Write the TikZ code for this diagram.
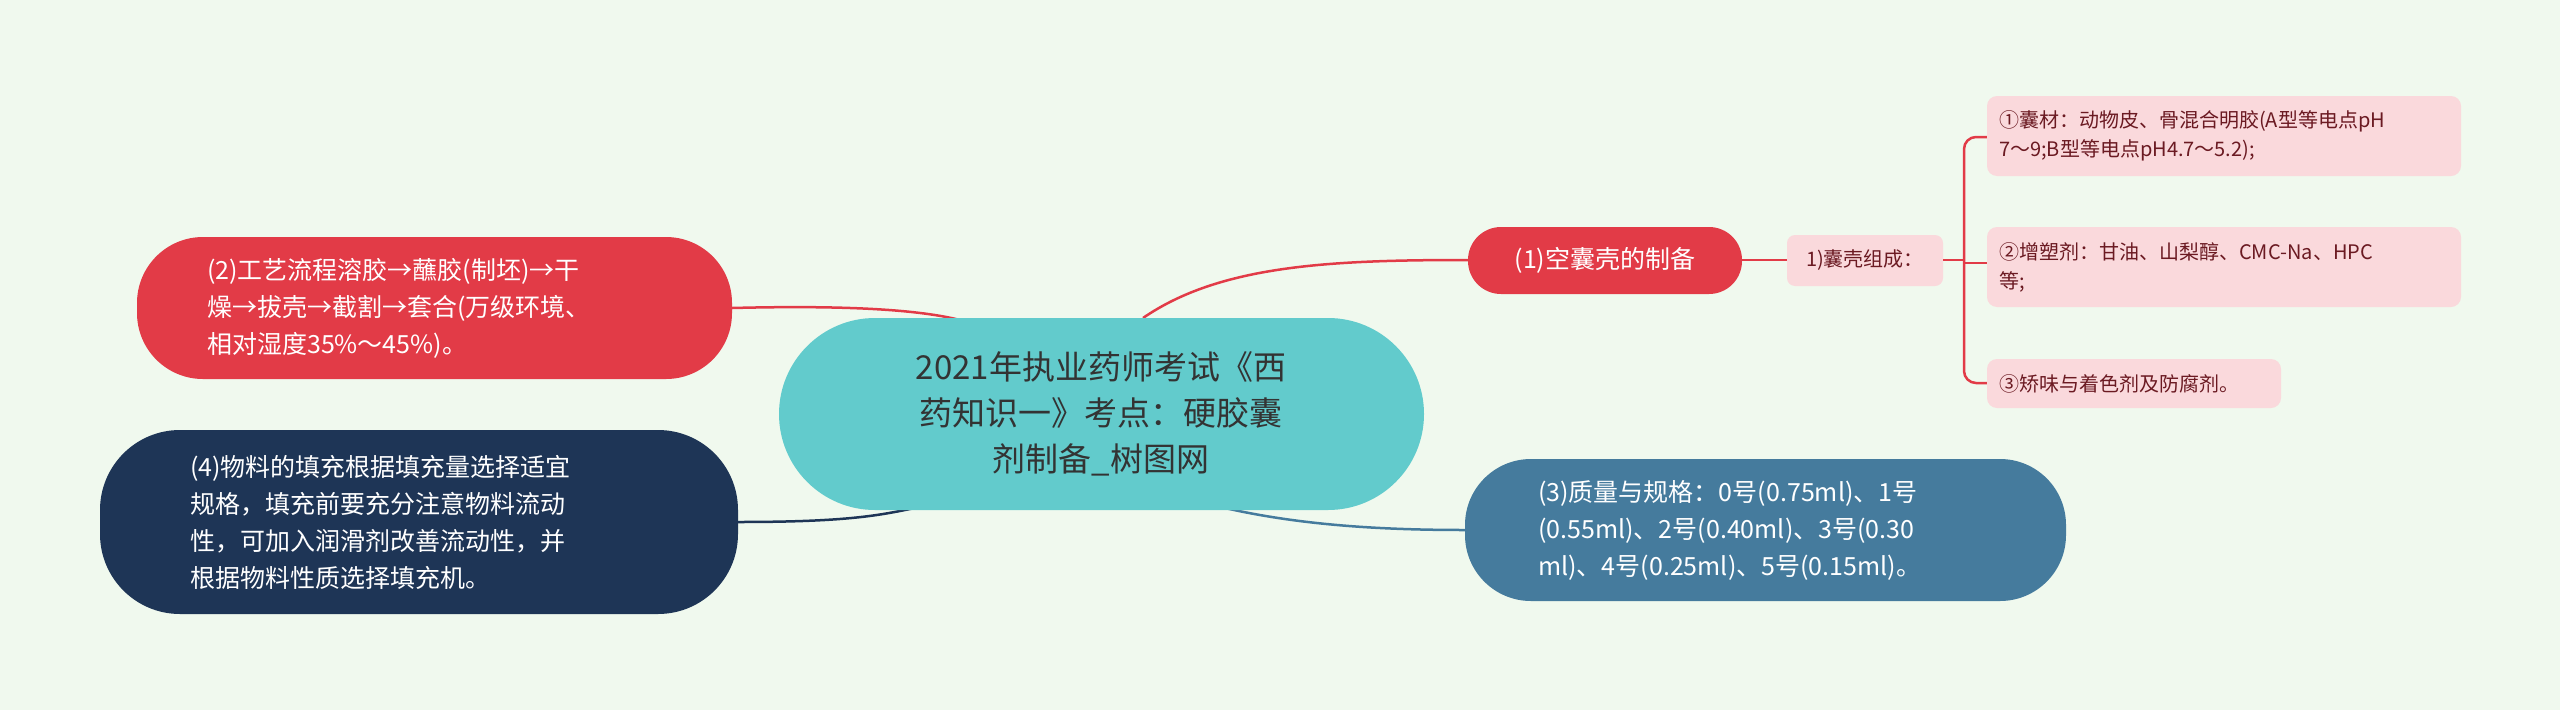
\documentclass[tikz,border=0pt]{standalone}
\usepackage{fontspec}
\setmainfont{Noto Sans CJK SC}
\begin{document}
\begin{tikzpicture}[x=1pt,y=-1pt,
  box/.style={rounded corners=#1,inner sep=0pt},
  txt/.style={align=left,anchor=west,inner sep=0pt}]
\definecolor{bg}{HTML}{F0F9EE}
\definecolor{teal}{HTML}{62CBCC}
\definecolor{red1}{HTML}{E23B47}
\definecolor{pink}{HTML}{FAD9DC}
\definecolor{navy}{HTML}{1E3556}
\definecolor{steel}{HTML}{457B9D}
\definecolor{dred}{HTML}{6B1A22}
\fill[bg] (0,0) rectangle (2560,710);
\useasboundingbox (0,0) rectangle (2560,710);
% connectors
\coordinate (c1) at (1143,318);
\coordinate (c2) at (960,320);
\coordinate (c4) at (915,508);
\coordinate (c3) at (1225,508);
\coordinate (n1) at (1468,260);
\coordinate (n2) at (732,308);
\coordinate (n4) at (738,522);
\coordinate (n3) at (1465,530);
\draw[red1,line width=2.5pt] (c1) .. controls (1220,265) and (1330,260) .. (n1);
\draw[red1,line width=2.5pt] (n2) .. controls (850,305) and (920,310) .. (c2);
\draw[navy,line width=2.5pt] (n4) .. controls (850,522) and (880,515) .. (c4);
\draw[steel,line width=2.5pt] (c3) .. controls (1300,525) and (1380,530) .. (n3);
% nodes
\fill[teal,rounded corners=96] (779,318) rectangle (1424,510);
\node[align=center,font=\fontsize{33}{46}\selectfont,text=black!80] (root) at (1101,414) {2021年执业药师考试《西\\药知识一》考点：硬胶囊\\剂制备\_树图网};
\fill[red1,rounded corners=33] (1468,227) rectangle (1742,294);
\node[font=\fontsize{25}{30}\selectfont,text=white] (a) at (1605,260) {(1)空囊壳的制备};
\draw[red1,line width=2.5pt] (1742,260) -- (1787,260);
\fill[pink,rounded corners=8] (1787,235) rectangle (1943,286);
\node[font=\fontsize{20}{24}\selectfont,text=dred] (b) at (1865,260) {1)囊壳组成：};
% bracket
\draw[red1,line width=2.5pt,rounded corners=12] (1987,137) -- (1964,137) -- (1964,383) -- (1987,383);
\draw[red1,line width=2.5pt] (1943,260) -- (1964,260);
\draw[red1,line width=2.5pt] (1964,263) -- (1987,263);
\fill[pink,rounded corners=10] (1987,96) rectangle (2461,176);
\node[txt,font=\fontsize{20}{29}\selectfont,text=dred] (l1) at (1999,136) {①囊材：动物皮、骨混合明胶(A型等电点pH\\7～9;B型等电点pH4.7～5.2);};
\fill[pink,rounded corners=10] (1987,227) rectangle (2461,307);
\node[txt,font=\fontsize{20}{29}\selectfont,text=dred] (l2) at (1999,267) {②增塑剂：甘油、山梨醇、CMC-Na、HPC\\等;};
\fill[pink,rounded corners=10] (1987,359) rectangle (2281,408);
\node[txt,font=\fontsize{20}{29}\selectfont,text=dred] (l3) at (1999,384) {③矫味与着色剂及防腐剂。};
\fill[red1,rounded corners=66] (137,237) rectangle (732,379);
\node[txt,font=\fontsize{25}{37}\selectfont,text=white] (p2) at (207,308) {(2)工艺流程溶胶→蘸胶(制坯)→干\\燥→拔壳→截割→套合(万级环境、\\相对湿度35\%～45\%)。};
\fill[navy,rounded corners=80] (100,430) rectangle (738,614);
\node[txt,font=\fontsize{25}{37}\selectfont,text=white] (p4) at (190,522) {(4)物料的填充根据填充量选择适宜\\规格，填充前要充分注意物料流动\\性，可加入润滑剂改善流动性，并\\根据物料性质选择填充机。};
\fill[steel,rounded corners=66] (1465,459) rectangle (2066,601);
\node[txt,font=\fontsize{25}{37}\selectfont,text=white] (p3) at (1538,530) {(3)质量与规格：0号(0.75ml)、1号\\(0.55ml)、2号(0.40ml)、3号(0.30\\ml)、4号(0.25ml)、5号(0.15ml)。};
\end{tikzpicture}
\end{document}
